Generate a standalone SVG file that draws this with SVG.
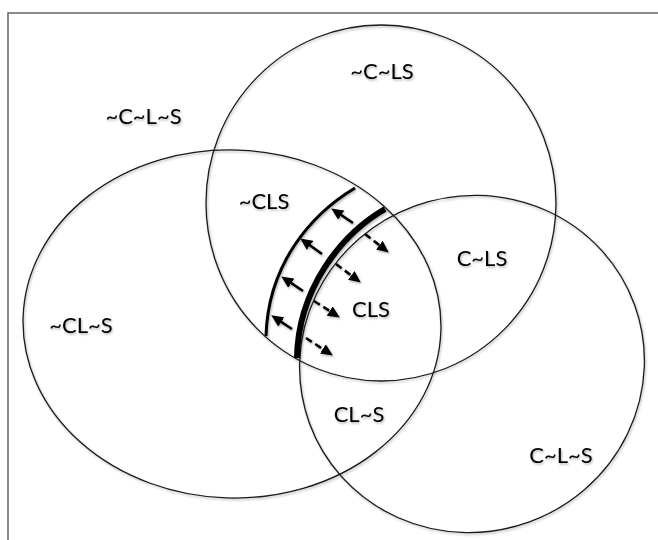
<svg xmlns="http://www.w3.org/2000/svg" width="658" height="540" viewBox="0 0 658 540">
  <style>
    .set { fill: none; stroke: #1a1a1a; stroke-width: 1.3; }
    .label { font-family: Lato, "Open Sans", "Liberation Sans", sans-serif; font-size: 22px; fill: #000; text-anchor: middle; }
    .edge { fill: none; stroke: #000; }
    .push { stroke: #000; stroke-width: 2.6; fill: none; }
    .pull { stroke: #000; stroke-width: 2.6; fill: none; stroke-dasharray: 7 4; }
  </style>
  <defs>
    <filter id="soft" x="-10%" y="-10%" width="120%" height="120%">
      <feDropShadow dx="1" dy="1.5" stdDeviation="1" flood-color="#000" flood-opacity="0.3"/>
    </filter>
    <marker id="head" viewBox="0 0 12 11" markerWidth="12" markerHeight="11" refX="7" refY="5.5" orient="auto" markerUnits="userSpaceOnUse">
      <path d="M0,0 L12,5.5 L0,11 z" fill="#000"/>
    </marker>
  </defs>

  <rect width="658" height="540" fill="#fff"/>
  <!-- outer frame: the universe of discourse -->
  <rect x="8" y="13" width="680" height="560" fill="none" stroke="#666" stroke-width="1.5"/>

  <g filter="url(#soft)">
    <g id="set-C">
      <ellipse class="set" cx="381" cy="203" rx="175" ry="178"/>
    </g>
    <g id="set-L">
      <ellipse class="set" cx="232" cy="324" rx="209" ry="174" transform="rotate(2 232 324)"/>
    </g>
    <g id="set-S">
      <ellipse class="set" cx="472" cy="364" rx="173" ry="168" transform="rotate(-20 472 364)"/>
    </g>

    <g id="boundaries">
      <path class="edge" stroke-width="3" d="M355,188 C310,215 268,265 266,336"/>
      <path class="edge" stroke-width="6" d="M385,209 C340,235 298,290 297,358"/>
    </g>

    <g id="connectors">
      <path class="push" marker-end="url(#head)" d="M353,223 L335.4,211.2"/>
      <path class="push" marker-end="url(#head)" d="M322,254 L304.3,241.3"/>
      <path class="push" marker-end="url(#head)" d="M303,291 L285.4,279.2"/>
      <path class="push" marker-end="url(#head)" d="M292,329 L275.4,318.1"/>
      <path class="pull" marker-end="url(#head)" d="M365,234 L384.8,249.5"/>
      <path class="pull" marker-end="url(#head)" d="M336,264 L356.8,279.6"/>
      <path class="pull" marker-end="url(#head)" d="M314,301 L335.6,314.8"/>
      <path class="pull" marker-end="url(#head)" d="M306,338 L328.7,352.8"/>
    </g>

    <g id="labels">
      <text class="label" x="143.5" y="124">~C~L~S</text>
      <text class="label" x="382" y="79">~C~LS</text>
      <text class="label" x="264" y="209">~CLS</text>
      <text class="label" x="482" y="266">C~LS</text>
      <text class="label" x="371" y="317">CLS</text>
      <text class="label" x="359" y="422">CL~S</text>
      <text class="label" x="561" y="463">C~L~S</text>
      <text class="label" x="81" y="333">~CL~S</text>
    </g>
  </g>
</svg>
